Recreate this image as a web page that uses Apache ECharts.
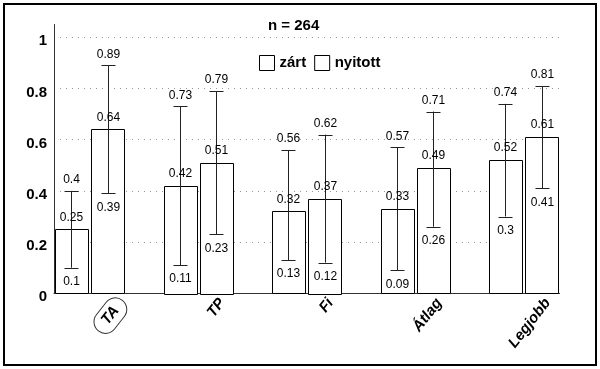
<!DOCTYPE html>
<html><head><meta charset="utf-8">
<script src="https://cdn.jsdelivr.net/npm/echarts@6/dist/echarts.min.js"></script>
<style>html,body{margin:0;padding:0;background:#fff}#c{width:600px;height:369px}</style>
</head><body><div id="c"></div>
<script>
const categories = ['TA', 'TP', 'Fi', 'Átlag', 'Legjobb'];
const zartMean = [0.25, 0.42, 0.32, 0.33, 0.52];
const zartLow = [0.1, 0.11, 0.13, 0.09, 0.3];
const zartHigh = [0.4, 0.73, 0.56, 0.57, 0.74];
const nyitottMean = [0.64, 0.51, 0.37, 0.49, 0.61];
const nyitottLow = [0.39, 0.23, 0.12, 0.26, 0.41];
const nyitottHigh = [0.89, 0.79, 0.62, 0.71, 0.81];
const yTicks = [0, 0.2, 0.4, 0.6, 0.8, 1];
const titleText = 'n = 264';

const BAR_W = 0.30;
const FONT_LBL = '12px "Liberation Sans", Arial, sans-serif';
const FAM = '"Liberation Sans", Arial, sans-serif';

function makeSeries(name, mean, low, high, off) {
  return {
    type: 'custom',
    name: name,
    data: categories.map((c, i) => [i, mean[i], low[i], high[i]]),
    renderItem: function (params, api) {
      const i = api.value(0);
      const m = api.value(1), lo = api.value(2), hi = api.value(3);
      const x0 = i + off, x1 = i + off + BAR_W, xc = (x0 + x1) / 2;
      const pTL = api.coord([x0, m]);
      const pBR = api.coord([x1, 0]);
      const pHi = api.coord([xc, hi]);
      const pLo = api.coord([xc, lo]);
      const cx = Math.round(pHi[0]) + 0.5;
      const cap = 7;
      const lineStyle = { stroke: '#222', lineWidth: 1 };
      const txt = (t, y) => ({
        type: 'text', x: cx, y: y,
        style: { text: String(t), fill: '#000', font: FONT_LBL, align: 'center', verticalAlign: 'middle' }
      });
      return {
        type: 'group',
        children: [
          { type: 'rect', shape: { x: Math.round(pTL[0]) + 0.5, y: Math.round(pTL[1]) + 0.5, width: Math.round(pBR[0] - pTL[0]), height: Math.round(pBR[1] - pTL[1]) },
            style: { fill: '#fff', stroke: '#000', lineWidth: 1 } },
          { type: 'line', shape: { x1: cx, y1: pLo[1], x2: cx, y2: pHi[1] }, style: lineStyle },
          { type: 'line', shape: { x1: cx - cap, y1: Math.round(pHi[1]) + 0.5, x2: cx + cap, y2: Math.round(pHi[1]) + 0.5 }, style: lineStyle },
          { type: 'line', shape: { x1: cx - cap, y1: Math.round(pLo[1]) + 0.5, x2: cx + cap, y2: Math.round(pLo[1]) + 0.5 }, style: lineStyle },
          txt(m, pTL[1] - 12),
          txt(hi, pHi[1] - 11),
          txt(lo, pLo[1] + 14)
        ]
      };
    }
  };
}

const chart = echarts.init(document.getElementById('c'));
const iconStyle = { color: '#fff', borderColor: '#000', borderWidth: 1 };
chart.setOption({
  animation: false,
  backgroundColor: '#fff',
  title: {
    text: titleText, left: 268, top: 18, padding: 0,
    textStyle: { fontSize: 15, fontWeight: 'bold', color: '#000', fontFamily: FAM }
  },
  legend: {
    left: 259, top: 55, padding: 0, itemWidth: 15, itemHeight: 15, itemGap: 8,
    data: [
      { name: 'zárt', icon: 'rect', itemStyle: iconStyle },
      { name: 'nyitott', icon: 'rect', itemStyle: iconStyle }
    ],
    textStyle: { fontSize: 15, fontWeight: 'bold', color: '#000', fontFamily: FAM }
  },
  graphic: [{
    type: 'rect', shape: { x: 4, y: 4, width: 592, height: 361 },
    style: { fill: 'none', stroke: '#000', lineWidth: 2 }, z: -1
  }],
  grid: { left: 54, right: 40.4, top: 24.5, bottom: 75.7 },
  xAxis: {
    type: 'value', min: 0, max: 4.66,
    axisLine: { show: true, lineStyle: { color: '#333', width: 1 } },
    axisTick: { show: false },
    splitLine: { show: false },
    axisLabel: {
      customValues: categories.map((c, i) => i + (i === 0 ? 0.63 : 0.55)),
      rotate: 52, margin: 7,
      formatter: function (v) {
        const idx = Math.floor(v + 0.01);
        return idx === 0 ? '{c|' + categories[idx] + '}' : '{n|' + categories[idx] + '}';
      },
      rich: {
        c: { fontSize: 15, fontWeight: 'bold', fontStyle: 'italic', color: '#000', fontFamily: FAM,
             borderColor: '#333', borderWidth: 1, borderRadius: 13, padding: [4, 10] },
        n: { fontSize: 15, fontWeight: 'bold', fontStyle: 'italic', color: '#000', fontFamily: FAM }
      }
    }
  },
  yAxis: {
    type: 'value', min: 0, max: 1.05, interval: 0.2,
    axisLine: { show: true, lineStyle: { color: '#333', width: 1 } },
    axisTick: { show: false },
    axisLabel: {
      customValues: yTicks,
      margin: 7, verticalAlign: 'top', lineHeight: 8,
      fontSize: 15, fontWeight: 'bold', color: '#000', fontFamily: FAM
    },
    splitLine: { show: true, showMinLine: false, showMaxLine: false, lineStyle: { color: '#999', type: [1, 5], width: 1 } }
  },
  series: [
    makeSeries('zárt', zartMean, zartLow, zartHigh, 0.01),
    makeSeries('nyitott', nyitottMean, nyitottLow, nyitottHigh, 0.345)
  ]
});
</script></body></html>
